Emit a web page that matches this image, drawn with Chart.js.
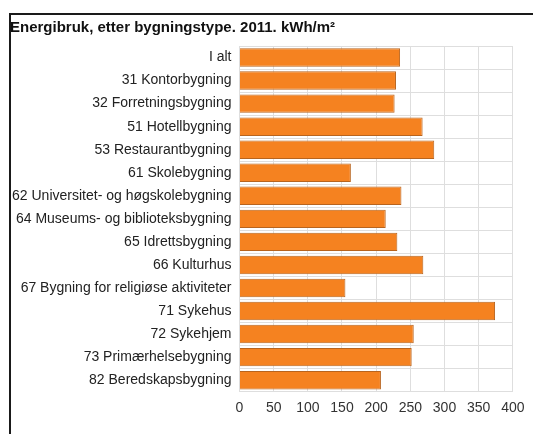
<!DOCTYPE html>
<html>
<head>
<meta charset="utf-8">
<script src="https://cdn.jsdelivr.net/npm/chart.js@4"></script>
<style>
  body { margin: 0; background: #fff; }
  #wrap { position: relative; width: 533px; height: 434px; }
  #frame {
    position: absolute; left: 9px; top: 13px; right: -5px; bottom: -5px;
    border-left: 2px solid #1a1a1a; border-top: 2px solid #1a1a1a;
  }
  #chart { position: absolute; left: 0; top: 0; }
</style>
</head>
<body>
<div id="wrap">
  <div id="frame"></div>
  <canvas id="chart" width="533" height="434"></canvas>
</div>
<script>
const buildingTypes = [
  'I alt',
  '31 Kontorbygning',
  '32 Forretningsbygning',
  '51 Hotellbygning',
  '53 Restaurantbygning',
  '61 Skolebygning',
  '62 Universitet- og høgskolebygning',
  '64 Museums- og biblioteksbygning',
  '65 Idrettsbygning',
  '66 Kulturhus',
  '67 Bygning for religiøse aktiviteter',
  '71 Sykehus',
  '72 Sykehjem',
  '73 Primærhelsebygning',
  '82 Beredskapsbygning'
];
const kwhPerM2 = [235, 229, 227, 268, 285, 163, 237, 214, 231, 269, 155, 374, 255, 252, 207];
const axisTicks = [0, 50, 100, 150, 200, 250, 300, 350, 400];

const font = 'Arial, "Liberation Sans", Helvetica, sans-serif';

new Chart(document.getElementById('chart').getContext('2d'), {
  type: 'bar',
  data: {
    labels: buildingTypes,
    datasets: [{
      data: kwhPerM2,
      backgroundColor: '#f58220',
      borderColor: '#b8641e',
      borderWidth: 1,
      barPercentage: 0.8,
      categoryPercentage: 1
    }]
  },
  options: {
    indexAxis: 'y',
    responsive: false,
    animation: false,
    layout: { padding: { left: 10, right: 20, top: 0, bottom: 8.5 } },
    plugins: {
      legend: { display: false },
      tooltip: { enabled: false },
      title: {
        display: true,
        text: 'Energibruk, etter bygningstype. 2011. kWh/m²',
        align: 'start',
        color: '#111',
        font: { family: font, size: 15, weight: 'bold' },
        padding: { top: 19, bottom: 9 }
      }
    },
    scales: {
      x: {
        min: 0,
        max: 400,
        afterBuildTicks: s => { s.ticks = axisTicks.map(v => ({ value: v })); },
        grid: { color: '#dedede', drawTicks: false },
        border: { display: false },
        ticks: { color: '#333', padding: 8.5, maxRotation: 0, font: { family: font, size: 14 } }
      },
      y: {
        afterFit: s => { s.width = 229.5; },
        grid: { color: '#dedede', offset: true, drawTicks: false },
        border: { color: '#dedede' },
        ticks: { color: '#222', padding: 8, font: { family: font, size: 14 } }
      }
    }
  }
});
</script>
</body>
</html>
